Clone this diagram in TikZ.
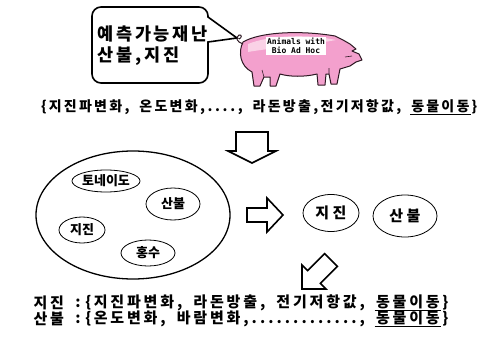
\documentclass[tikz,border=0pt]{standalone}
\usepackage{fontspec}
\usetikzlibrary{shapes.geometric}
\newfontfamily\kr{Noto Sans CJK KR}
\newfontfamily\tagfont{DejaVu Sans Mono}
\definecolor{pigpink}{RGB}{243,160,205}
\definecolor{piglight}{RGB}{250,210,230}
\definecolor{pigline}{RGB}{45,25,35}

% fixed cells: Hangul one \cellw wide, ASCII marks half of it
\newlength\cellw
\let\cellstop\relax
\newcommand\cells[1]{\cellgo#1\cellstop}
\def\cellgo#1{\ifx#1\cellstop\else
  \ifnum`#1<128 \makebox[.5\cellw]{#1}\else\makebox[\cellw]{#1}\fi
  \expandafter\cellgo\fi}

\tikzset{
  krtext/.style={font=\kr\bfseries\fontsize{15}{16}\selectfont\setlength\cellw{16.6pt},
    inner sep=0pt},
  hazard/.style={draw, ellipse, line width=0.8pt, inner sep=0pt,
    font=\kr\bfseries\fontsize{13}{14}\selectfont},
  blockarrow/.style={draw, line width=1.6pt, fill=white, line join=miter},
}

\begin{document}
\begin{tikzpicture}[x=1pt, y=-1pt]
  \useasboundingbox (0,0) rectangle (484,337);

  % Speech bubble
  \draw[line width=1.6pt, fill=white, rounded corners=9pt]
    (92,7) -- (208,7) [sharp corners]-- (208,17) -- (237,38) -- (208,42)
    [rounded corners=9pt]-- (208,83) -- (92,83) -- cycle;
  \tikzset{bubble/.style={anchor=base west, inner sep=0pt,
    font=\kr\bfseries\fontsize{17.5}{20}\selectfont\setlength\cellw{18.8pt}}}
  \node[bubble] (bubbleone) at (96,41) {\cells{예측가능재난}};
  \node[bubble] (bubbletwo) at (96,61) {\cells{산불,지진}};

  % Pig
  \draw[pigline, line width=1pt, fill=pigpink, line join=round]
    (243,42) .. controls (260,32) and (300,30) .. (335,36)
    -- (343,40) -- (350,44) -- (356,49) -- (352,51) -- (359,54)
    -- (362,60) -- (356,62) -- (350,66) -- (340,69)
    -- (337,84) -- (331,84) -- (329,74) -- (326,74)
    -- (325,85) -- (318,85) -- (317,74)
    .. controls (305,77) and (290,77) .. (280,74)
    -- (276,86) -- (270,86) -- (270,77) -- (264,77)
    -- (260,86) -- (254,86) -- (252,72)
    .. controls (240,66) and (238,52) .. (243,42);
  \fill[piglight] (248,44) .. controls (270,35) and (310,34) .. (336,40)
    .. controls (310,45) and (270,48) .. (248,52) -- cycle;
  % tail
  \draw[pigline, line width=1pt]
    (243,44) .. controls (237,42) and (235,38) .. (239,35)
    .. controls (242,34) and (242,38) .. (239,39);
  % leg creases, jaw
  \draw[pigline, line width=0.6pt] (329,74) -- (329,68) (264,77) -- (262,70)
    (345,57) -- (352,56);
  \node[fill=white, inner sep=1.5pt, align=center,
        font=\tagfont\bfseries\fontsize{8}{8.5}\selectfont] (pigtag) at (296,46)
    {Animals with\\Bio Ad Hoc};

  % Clue list
  \node[krtext, font=\kr\bfseries\fontsize{14}{15}\selectfont\setlength\cellw{15.1pt},
        anchor=west] (clues) at (40,107)
    {\cells{\{지진파변화,~온도변화,....,~라돈방출,전기저항값,~}\underline{\cells{동물이동}}\cells{\}}};

  % Down arrow
  \draw[blockarrow, shift={(252,132)}, rotate=-90]
    (0,-16) -- (19,-16) -- (19,-24) -- (31,0) -- (19,24) -- (19,16) -- (0,16) -- cycle;

  % Disaster pool
  \node[draw, ellipse, line width=1.3pt, minimum width=194, minimum height=128]
    (pool) at (133,215) {};
  \node[hazard, minimum width=68, minimum height=22] (tornado) at (106,181) {토네이도};
  \node[hazard, minimum width=54, minimum height=32] (fire) at (173,204) {산불};
  \node[hazard, minimum width=46, minimum height=26] (quake) at (82,230) {지진};
  \node[hazard, minimum width=54, minimum height=26] (flood) at (148,253) {홍수};

  % Right arrow
  \draw[blockarrow, shift={(247,215)}]
    (0,-7) -- (20,-7) -- (20,-17) -- (36,0) -- (20,17) -- (20,7) -- (0,7) -- cycle;

  % Selected disasters
  \node[hazard, minimum width=56, minimum height=37,
        font=\kr\bfseries\fontsize{15}{16}\selectfont] (quakesel) at (331,213) {지 진};
  \node[hazard, minimum width=64, minimum height=42,
        font=\kr\bfseries\fontsize{15}{16}\selectfont] (firesel) at (405,216) {산 불};

  % Diagonal arrow
  \draw[blockarrow, shift={(331,260)}, rotate=225]
    (0,-9) -- (24,-9) -- (24,-17) -- (41,0) -- (24,17) -- (24,9) -- (0,9) -- cycle;

  % Clue sets per disaster
  \node[krtext, anchor=west] (quakename) at (32,303) {\cells{지진}};
  \node[krtext] (quakecolon) at (78,303) {:};
  \node[krtext, anchor=west] (quakeset) at (84,303)
    {\cells{\{지진파변화,~라돈방출,~전기저항값,~}\underline{\cells{동물이동}}\cells{\}}};
  \node[krtext, anchor=west] (firename) at (32,319) {\cells{산불}};
  \node[krtext] (firecolon) at (78,319) {:};
  \node[krtext, anchor=west] (fireset) at (84,319)
    {\cells{\{온도변화,~바람변화,.............,~}\underline{\cells{동물이동}}\cells{\}}};
\end{tikzpicture}
\end{document}
